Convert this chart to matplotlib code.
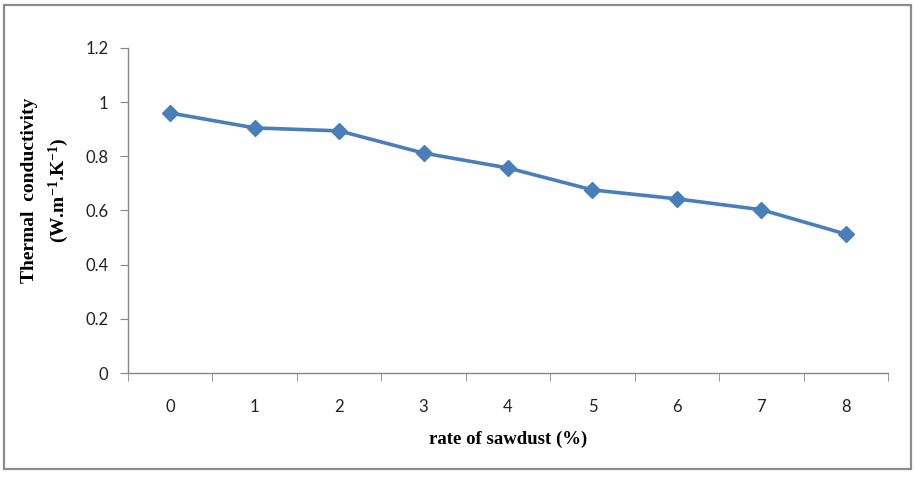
import matplotlib.pyplot as plt
from matplotlib.patches import Rectangle

# data
rate = [0, 1, 2, 3, 4, 5, 6, 7, 8]
conductivity = [0.96, 0.905, 0.894, 0.812, 0.757, 0.676, 0.643, 0.603, 0.513]
yticks = [0, 0.2, 0.4, 0.6, 0.8, 1, 1.2]
ytick_labels = ["0", "0.2", "0.4", "0.6", "0.8", "1", "1.2"]

plt.rcParams['mathtext.fontset'] = 'custom'
plt.rcParams['mathtext.rm'] = 'Liberation Serif:bold'
plt.rcParams['mathtext.it'] = 'Liberation Serif:bold'
plt.rcParams['mathtext.bf'] = 'Liberation Serif:bold'

W, H = 916, 478
fig = plt.figure(figsize=(W / 100, H / 100), dpi=100)
ax = fig.add_axes([128 / W, 1 - 373 / H, (888 - 128) / W, (373 - 48) / H])

# outer chart border
fig.patches.append(Rectangle((4 / W, 1 - 469 / H), (911 - 4) / W, (469 - 5) / H,
                             transform=fig.transFigure, fill=False,
                             edgecolor="#8c8c8c", linewidth=1.6))

ax.plot(rate, conductivity, color="#4a7ebb", linewidth=2.6, marker="D",
        markersize=8, markerfacecolor="#4a7ebb", markeredgecolor="#4a7ebb")

ax.set_xlim(-0.5, 8.5)
ax.set_ylim(0, 1.2)
ax.set_yticks(yticks)
ax.set_yticklabels(ytick_labels)
ax.set_xticks(rate)
ax.set_xticklabels([str(r) for r in rate])
ax.set_xticks([r - 0.5 for r in rate] + [8.5], minor=True)

for s in ["top", "right"]:
    ax.spines[s].set_visible(False)
for s in ["left", "bottom"]:
    ax.spines[s].set_color("#868686")
    ax.spines[s].set_linewidth(1)

ax.tick_params(axis="y", direction="out", length=6, color="#868686",
               labelsize=12, pad=8)
ax.tick_params(axis="x", which="major", length=0, labelsize=12, pad=19)
ax.tick_params(axis="x", which="minor", direction="out", length=6, color="#868686")
for lab in ax.get_xticklabels() + ax.get_yticklabels():
    lab.set_fontfamily("Lato")
    lab.set_color("#222222")

ax.set_xlabel("rate of sawdust (%)", fontfamily="Liberation Serif",
              fontweight="bold", fontsize=13.5, labelpad=11)
fig.text(46 / W, 1 - 190 / H, "Thermal  conductivity\n(W.m$^{-1}$.K$^{-1}$)",
         rotation=90, ha="center", va="center", fontfamily="Liberation Serif",
         fontweight="bold", fontsize=14, linespacing=1.5, multialignment="center")

fig.savefig("out.png", dpi=100)
